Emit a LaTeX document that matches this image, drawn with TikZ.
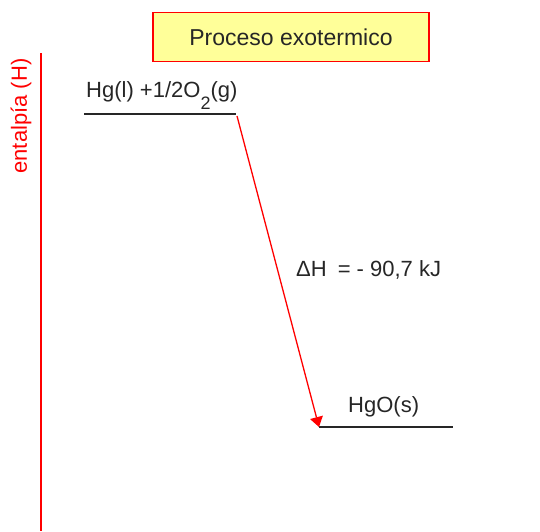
\documentclass[tikz,border=0pt]{standalone}
\usepackage{fontspec}
\setmainfont{Liberation Sans}
\usetikzlibrary{arrows.meta}

\definecolor{boxyellow}{HTML}{FFFF99}
\definecolor{levelgray}{HTML}{262626}

\begin{document}
\begin{tikzpicture}[x=1pt,y=-1pt]
            % Base settings
            \tikzset{
              lbl/.style={inner sep=0pt, text=levelgray, font=\fontsize{22}{26}\selectfont},
              level/.style={line width=1.4pt, levelgray},
              axisline/.style={line width=1.6pt, red},
              titlebox/.style={draw=red, line width=1.3pt, fill=boxyellow,
                minimum width=276pt, minimum height=49pt, inner sep=0pt},
              reaction/.style={line width=1.3pt, red, -{Triangle[width=13pt,length=10pt]}}
            }
            \useasboundingbox (0,0) rectangle (540,531);

            % --- Title ---
            \node[titlebox, lbl, font=\fontsize{23}{27}\selectfont] (title) at (291,37) {Proceso exotermico};

            % --- Enthalpy axis ---
            \coordinate (axtop) at (41,53);
            \coordinate (axbot) at (41,531);
            \draw[axisline] (axtop) -- (axbot);
            \node[lbl, text=red, rotate=90] (axlabel) at (21,116) {entalpía (H)};

            % --- Levels ---
            \coordinate (reacL) at (84,114);
            \coordinate (reacR) at (236,114);
            \draw[level] (reacL) -- (reacR);
            \node[lbl, anchor=base west] (reac) at (86,97)
              {Hg(l) +1/2O\raisebox{-12pt}{\fontsize{18}{18}\selectfont 2}(g)};

            \coordinate (prodL) at (319,427);
            \coordinate (prodR) at (453,427);
            \draw[level] (prodL) -- (prodR);
            \node[lbl, anchor=base west] (prod) at (348,412) {HgO(s)};

            % --- Reaction arrow ---
            \coordinate (start) at (237,116);
            \draw[reaction] (start) -- (prodL);
            \node[lbl, anchor=base west] (dH) at (296,276) {ΔH\hspace{11pt}= - 90,7 kJ};

\end{tikzpicture}
\end{document}
